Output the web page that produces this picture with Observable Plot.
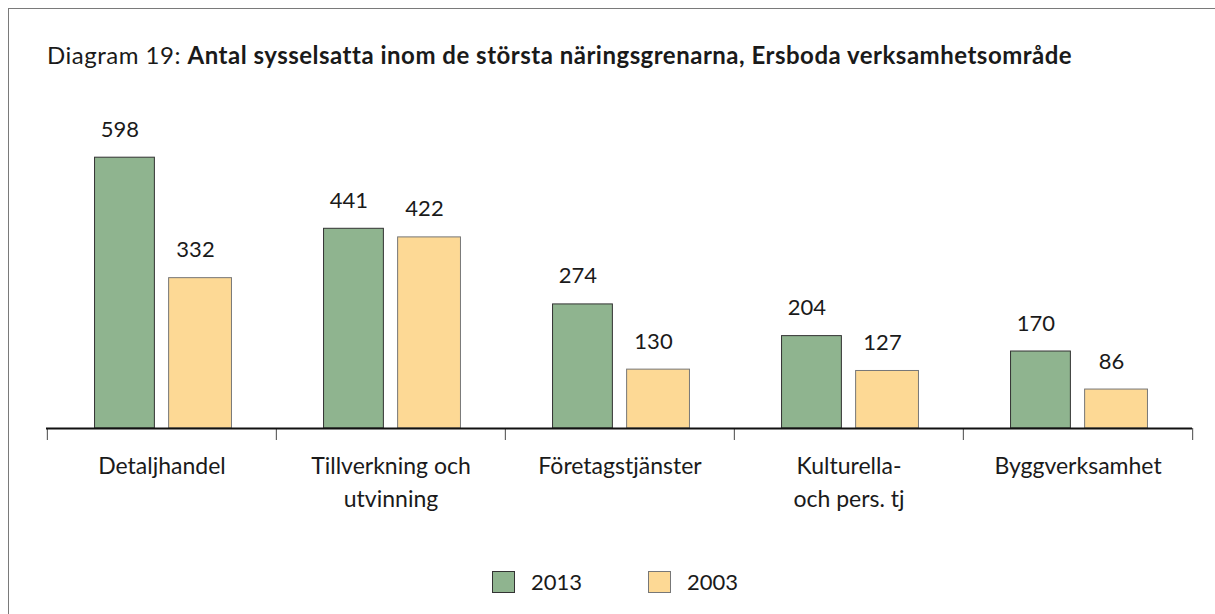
<!DOCTYPE html>
<html><head><meta charset="utf-8">
<script src="https://cdn.jsdelivr.net/npm/d3@7"></script>
<script src="https://cdn.jsdelivr.net/npm/@observablehq/plot@0.6"></script>
<style>
body{margin:0;background:#fff;font-family:Lato,"Open Sans",sans-serif;color:#1a1a1a;}
#wrap{position:relative;width:1215px;height:614px;overflow:hidden;}
#border{position:absolute;left:8px;top:8px;width:1300px;height:700px;border-left:1.5px solid #7a7a7a;border-top:1.5px solid #7a7a7a;}
#title{position:absolute;left:47px;top:43px;font-size:24px;line-height:24px;letter-spacing:0.5px;white-space:nowrap;}
#title b{font-weight:700;}
#chart{position:absolute;left:0;top:0;}
.leg{position:absolute;top:571px;font-size:22px;line-height:22px;}
.sw{position:absolute;top:571px;width:23px;height:22px;box-sizing:border-box;}
</style></head>
<body><div id="wrap">
<div id="border"></div>
<div id="title">Diagram 19: <b>Antal sysselsatta inom de största näringsgrenarna, Ersboda verksamhetsområde</b></div>
<div id="chart"></div>
<div class="sw" id="sw1" style="left:492px;background:#8fb48f;border:1px solid #333;"></div>
<div class="leg" id="lg1" style="left:531px;"></div>
<div class="sw" id="sw2" style="left:648px;background:#fdd995;border:1px solid #777;"></div>
<div class="leg" id="lg2" style="left:687px;"></div>
</div>
<script>
const categories = ["Detaljhandel", "Tillverkning och\nutvinning", "Företagstjänster", "Kulturella-\noch pers. tj", "Byggverksamhet"];
const series = ["2013", "2003"];
const values2013 = [598, 441, 274, 204, 170];
const values2003 = [332, 422, 130, 127, 86];
const colors = ["#8fb48f", "#fdd995"];

document.getElementById("lg1").textContent = series[0];
document.getElementById("lg2").textContent = series[1];

const W = 1215, H = 540, mL = 46, mR = 23, mT = 111, mB = 112;
const yMax = 700;
const bw = (W - mL - mR) / categories.length;
const pxPerUnit = (H - mT - mB) / yMax;

const d13 = categories.map((c, i) => ({cat: c, v: values2013[i]}));
const d03 = categories.map((c, i) => ({cat: c, v: values2003[i]}));

const chart = Plot.plot({
  width: W, height: H,
  marginLeft: mL, marginRight: mR, marginTop: mT, marginBottom: mB,
  x: {type: "band", domain: categories, padding: 0, axis: null},
  y: {domain: [0, yMax], axis: null},
  style: {fontFamily: "Lato, 'Open Sans', sans-serif", background: "transparent"},
  marks: [
    Plot.barY(d13, {x: "cat", y: "v", fill: colors[0], stroke: "#333", strokeWidth: 1,
      insetLeft: bw * 0.2074, insetRight: bw * 0.5306}),
    Plot.barY(d03, {x: "cat", y: "v", fill: colors[1], stroke: "#777", strokeWidth: 1,
      insetLeft: bw * 0.5306, insetRight: bw * 0.1943}),
    Plot.text(d13, {x: "cat", y: "v", text: d => String(d.v), dx: -bw * 0.1616 - 5, dy: -28,
      fontSize: 22, fill: "#1a1a1a"}),
    Plot.text(d03, {x: "cat", y: "v", text: d => String(d.v), dx: bw * 0.168 - 5, dy: -28,
      fontSize: 22, fill: "#1a1a1a"}),
    Plot.ruleX(categories, {x: d => d, dx: -bw / 2, y1: 0, y2: -12 / pxPerUnit, stroke: "#666", strokeWidth: 1.2}),
    Plot.ruleX(categories.slice(-1), {x: d => d, dx: bw / 2, y1: 0, y2: -12 / pxPerUnit, stroke: "#666", strokeWidth: 1.2}),
    Plot.ruleY([0], {stroke: "#111", strokeWidth: 1.8}),
    Plot.text(categories, {x: d => d, y: 0, text: d => d, dy: 23, lineAnchor: "top", lineHeight: 1.4,
      fontSize: 23, fill: "#1a1a1a"})
  ]
});
document.getElementById("chart").appendChild(chart);
</script>
</body></html>
